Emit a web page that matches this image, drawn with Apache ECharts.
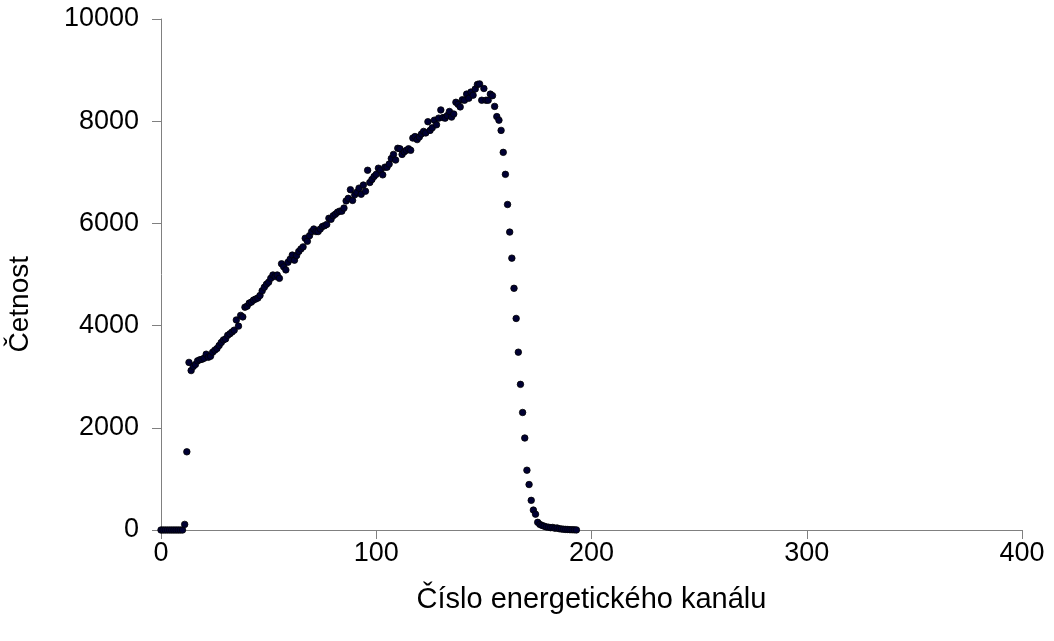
<!DOCTYPE html>
<html>
<head>
<meta charset="utf-8">
<script src="https://cdn.jsdelivr.net/npm/echarts@6/dist/echarts.min.js"></script>
<style>
html,body{margin:0;padding:0;background:#fff;}
#chart{width:1054px;height:641px;}
</style>
</head>
<body>
<div id="chart"></div>
<script>
const xTicks = [0, 100, 200, 300, 400];
const yTicks = [0, 2000, 4000, 6000, 8000, 10000];
const xTitle = 'Číslo energetického kanálu';
const yTitle = 'Četnost';

const channels = [
  0,1,2,3,4,5,6,7,8,9,10,11,12,13,14,15,16,17,18,19,
  20,21,22,23,24,25,26,27,28,29,30,31,32,33,34,35,36,37,38,39,
  40,41,42,43,44,45,46,47,48,49,50,51,52,53,54,55,56,57,58,59,
  60,61,62,63,64,65,66,67,68,69,70,71,72,73,74,75,76,77,78,79,
  80,81,82,83,84,85,86,87,88,89,90,91,92,93,94,95,96,97,98,99,
  100,101,102,103,104,105,106,107,108,109,110,111,112,113,114,115,116,117,118,119,
  120,121,122,123,124,125,126,127,128,129,130,131,132,133,134,135,136,137,138,139,
  140,141,142,143,144,145,146,147,148,149,150,151,152,153,154,155,156,157,158,159,
  160,161,162,163,164,165,166,167,168,169,170,171,172,173,174,175,176,177,178,179,
  180,181,182,183,184,185,186,187,188,189,190,191,192,193
];

const counts = [
  0,0,0,0,0,0,0,0,0,0,0,110,1530,3280,3120,3200,3240,3310,3330,3340,
  3360,3440,3380,3400,3480,3520,3550,3610,3670,3720,3740,3810,3840,3875,3910,4110,3990,4200,4170,4360,
  4380,4440,4460,4500,4520,4540,4590,4680,4750,4810,4850,4925,4990,4960,4990,4925,5210,5150,5090,5240,
  5300,5380,5280,5370,5450,5500,5540,5710,5650,5760,5840,5890,5840,5840,5890,5940,5955,5980,6100,6080,
  6150,6180,6220,6240,6240,6300,6440,6490,6660,6450,6560,6610,6690,6570,6750,6630,7040,6800,6860,6920,
  6960,7080,7040,6950,7100,7100,7160,7270,7350,7240,7470,7460,7350,7400,7430,7460,7430,7670,7700,7640,
  7690,7750,7800,7770,7990,7820,7870,8020,7930,8060,8220,8070,8060,8110,8190,8080,8140,8370,8330,8280,
  8420,8410,8530,8450,8570,8510,8630,8720,8730,8410,8640,8410,8410,8530,8500,8290,8090,8020,7820,7390,
  6960,6370,5830,5320,4730,4140,3480,2850,2300,1800,1170,890,580,390,310,150,110,90,75,60,
  55,45,50,35,40,25,20,15,12,10,6,5,3,2
];

const points = channels.map((c, i) => [c, counts[i]]);

const chart = echarts.init(document.getElementById('chart'), null, {renderer: 'canvas'});
const font = '"Liberation Sans", Arial, sans-serif';
const axisCommon = {
  axisLine: {show: true, lineStyle: {color: '#808080', width: 1}},
  axisTick: {show: true, inside: false, length: 9, lineStyle: {color: '#808080', width: 1}},
  splitLine: {show: false},
  axisLabel: {color: '#000', fontFamily: font, fontSize: 27, formatter: v => String(v)}
};
chart.setOption({
  animation: false,
  backgroundColor: '#fff',
  grid: {left: 161, top: 19, width: 861, height: 511, containLabel: false},
  xAxis: Object.assign({}, axisCommon, {
    type: 'value', min: xTicks[0], max: xTicks[xTicks.length - 1], interval: 100,
    name: xTitle, nameLocation: 'middle', nameGap: 55,
    nameTextStyle: {color: '#000', fontFamily: font, fontSize: 29},
    axisLabel: Object.assign({}, axisCommon.axisLabel, {margin: 10})
  }),
  yAxis: Object.assign({}, axisCommon, {
    type: 'value', min: yTicks[0], max: yTicks[yTicks.length - 1], interval: 2000,
    axisLabel: Object.assign({}, axisCommon.axisLabel, {margin: 22})
  }),
  graphic: [{
    type: 'text', left: 6, top: 256, rotation: Math.PI / 2,
    style: {text: yTitle, fill: '#000', font: '28px ' + font}
  }],
  series: [{
    type: 'scatter',
    data: points,
    symbol: 'circle',
    symbolSize: 6.5,
    itemStyle: {color: '#000033', borderColor: '#000000', borderWidth: 0.8, opacity: 1}
  }]
});
</script>
</body>
</html>
